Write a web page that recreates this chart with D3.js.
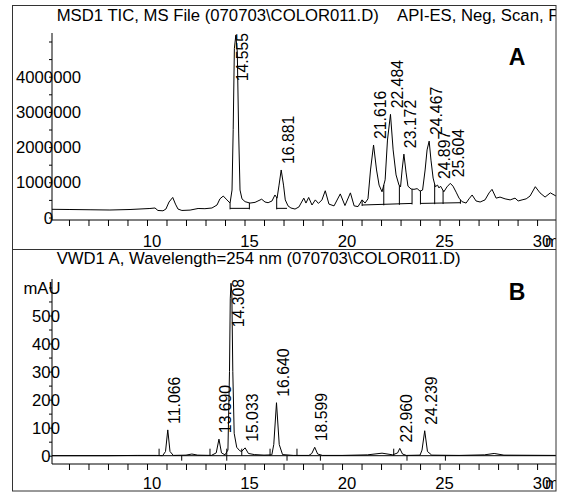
<!DOCTYPE html>
<html><head><meta charset="utf-8">
<script src="https://cdn.jsdelivr.net/npm/d3@7"></script>
<style>html,body{margin:0;padding:0;background:#fff;} svg{display:block;font-family:"Liberation Sans", Arial, sans-serif;}</style>
</head><body><svg id="c" width="564" height="492"></svg>
<script>
// ---------- Panel A : MSD1 TIC ----------
const ticTitle = "MSD1 TIC, MS File (070703\\COLOR011.D)";
const ticTitle2 = "API-ES, Neg, Scan, Frag: 70";
const ticTrace = [[5.13,233000],[6.05,227000],[7.08,220000],[8.10,213000],[9.13,227000],[10.15,256000],[10.41,270000],[10.56,200000],[10.82,190000],[10.97,240000],[11.13,440000],[11.32,570000],[11.46,380000],[11.59,240000],[11.79,200000],[12.21,210000],[12.62,256000],[12.97,250000],[13.33,270000],[13.59,355000],[13.74,530000],[13.91,610000],[14.10,500000],[14.26,410000],[14.36,780000],[14.42,2500000],[14.48,4800000],[14.555,5180000],[14.63,4700000],[14.70,2400000],[14.77,780000],[14.87,530000],[15.03,450000],[15.28,410000],[15.54,430000],[15.69,470000],[15.88,520000],[16.05,440000],[16.21,420000],[16.41,470000],[16.56,640000],[16.67,550000],[16.77,920000],[16.881,1350000],[17.00,920000],[17.09,500000],[17.23,330000],[17.38,270000],[17.59,240000],[17.79,300000],[18.04,550000],[18.15,410000],[18.29,570000],[18.46,355000],[18.63,500000],[18.79,400000],[18.97,500000],[19.14,760000],[19.33,380000],[19.59,330000],[19.91,670000],[20.15,340000],[20.43,700000],[20.62,330000],[20.82,310000],[21.03,500000],[21.18,410000],[21.33,530000],[21.46,1350000],[21.616,2060000],[21.77,1350000],[21.90,920000],[22.05,730000],[22.21,1070000],[22.33,2200000],[22.484,2930000],[22.62,1920000],[22.77,1210000],[22.92,920000],[23.0,870000],[23.08,1350000],[23.172,1800000],[23.28,1290000],[23.38,890000],[23.54,810000],[23.69,800000],[23.85,820000],[24.00,750000],[24.13,780000],[24.26,1350000],[24.36,1920000],[24.467,2170000],[24.56,1630000],[24.67,1120000],[24.78,875000],[24.897,920000],[24.97,840000],[25.05,890000],[25.22,730000],[25.38,870000],[25.55,970000],[25.69,890000],[25.85,720000],[26.0,550000],[26.15,450000],[26.36,410000],[26.51,530000],[26.67,640000],[26.87,470000],[27.08,440000],[27.33,500000],[27.54,700000],[27.69,800000],[27.90,550000],[28.10,580000],[28.36,530000],[28.62,500000],[28.87,550000],[29.03,470000],[29.23,500000],[29.44,530000],[29.64,610000],[29.91,875000],[30.15,700000],[30.41,580000],[30.68,700000],[30.97,610000]];
const ticPeakRT = [14.555,16.881,21.616,22.484,23.172,24.467,24.897,25.604];
const ticPeakText = ["14.555","16.881","21.616","22.484","23.172","24.467","24.897","25.604"];
const ticYTicks = [0,1000000,2000000,3000000,4000000];
const ticYLabels = ["0","1000000","2000000","3000000","4000000"];
const ticXTicks = [10,15,20,25,30];
const ticXLabels = ["10","15","20","25","30"];
// integration baselines: [t1, v1, t2, v2]
const ticBaselines = [[14.26,260000,15.25,260000],[16.65,260000,17.18,260000],[21.03,355000,23.59,400000],[24.02,400000,26.07,420000]];
const ticDrops = [14.26,15.25,16.65,21.03,22.14,22.94,23.59,24.02,24.75,25.18,26.07];

// ---------- Panel B : VWD1 A ----------
const vwdTitle = "VWD1 A, Wavelength=254 nm (070703\\COLOR011.D)";
const vwdTrace = [[5.13,0],[8.0,0],[9.5,1],[10.5,1],[10.8,0],[10.95,15],[11.066,92],[11.18,15],[11.35,1],[12.0,2],[12.3,6],[12.6,2],[13.3,1],[13.55,10],[13.69,59],[13.82,10],[14.0,3],[14.15,20],[14.23,300],[14.27,560],[14.308,615],[14.35,580],[14.40,300],[14.47,80],[14.6,30],[14.75,18],[14.85,15],[15.03,28],[15.2,8],[15.5,4],[16.0,2],[16.4,3],[16.5,40],[16.64,189],[16.78,40],[16.95,4],[17.5,1],[18.3,1],[18.45,8],[18.6,30],[18.75,6],[19.0,1],[20.0,1],[21.3,3],[22.05,9],[22.6,3],[22.85,10],[22.96,26],[23.1,6],[23.3,1],[24.0,2],[24.1,20],[24.239,89],[24.38,15],[24.6,2],[26.0,1],[27.3,3],[27.8,8],[28.3,2],[30.97,1]];
const vwdPeakRT = [11.066,13.690,14.308,15.033,16.640,18.599,22.960,24.239];
const vwdPeakText = ["11.066","13.690","14.308","15.033","16.640","18.599","22.960","24.239"];
const vwdYTicks = [0,100,200,300,400,500];
const vwdYLabels = ["0","100","200","300","400","500"];
const vwdUnit = "mAU";
const vwdStartMarks = [10.62,13.23,14.09,14.86,16.31,17.69,22.65];
const vwdEndMarks = [11.78,14.09,17.18,18.89,23.33,25.3];
const timeUnit = "min";
const panelLetters = ["A","B"];

// ---------- drawing ----------
const svg = d3.select("#c");
const defs = svg.append("defs");
defs.append("clipPath").attr("id","frame").append("rect").attr("x",12).attr("y",5).attr("width",544).attr("height",486);
defs.append("clipPath").attr("id","plotA").append("rect").attr("x",52).attr("y",25).attr("width",504).attr("height",200);
defs.append("clipPath").attr("id","plotB").append("rect").attr("x",52).attr("y",270).attr("width",504).attr("height",196);

const root = svg.append("g").attr("clip-path","url(#frame)");
const FS = 16.7;

const x = d3.scaleLinear().domain([5.13,30.97]).range([52,556]);
const yA = d3.scaleLinear().domain([0,4000000]).range([217.5,76.7]);
const yB = d3.scaleLinear().domain([0,500]).range([455.7,315.5]);

function interp(trace, t){
  const i = d3.bisector(d=>d[0]).left(trace, t);
  if (i<=0) return trace[0][1];
  if (i>=trace.length) return trace[trace.length-1][1];
  const a = trace[i-1], b = trace[i];
  return a[1] + (b[1]-a[1])*(t-a[0])/(b[0]-a[0]);
}
function apex(trace, t){
  const pts = trace.filter(d=>Math.abs(d[0]-t)<=0.12);
  return d3.max(pts, d=>d[1]);
}

function panel(cfg){
  const g = root.append("g");
  g.append("text").attr("x",56.7).attr("y",cfg.titleY).attr("font-size",FS).text(cfg.title);
  if (cfg.title2) g.append("text").attr("x",397).attr("y",cfg.titleY).attr("font-size",FS).text(cfg.title2);
  g.append("text").attr("x",517).attr("y",cfg.letterY).attr("text-anchor","middle")
    .attr("font-size",23).attr("font-weight","bold").text(cfg.letter);
  const xa = g.append("g").attr("transform",`translate(0,${cfg.axisY})`)
    .call(d3.axisBottom(x).tickValues(d3.range(6,31)).tickSize(6).tickFormat(""));
  xa.select(".domain").remove();
  xa.selectAll("line").attr("stroke","#000");
  g.append("line").attr("x1",52).attr("x2",556).attr("y1",cfg.axisY).attr("y2",cfg.axisY).attr("stroke","#000");
  g.selectAll(null).data(cfg.xTicks).join("text")
    .attr("x",(d)=>x(d)+5).attr("y",cfg.xLabelY).attr("text-anchor","middle")
    .attr("dy","0.36em").attr("font-size",FS).text((d,i)=>cfg.xLabels[i]);
  g.append("text").attr("x",545).attr("y",cfg.xLabelY).attr("dy","0.36em").attr("font-size",FS).text(timeUnit);
  g.append("line").attr("x1",52).attr("x2",52).attr("y1",cfg.yTop).attr("y2",cfg.axisY).attr("stroke","#000");
  const ya = g.append("g").attr("transform","translate(52,0)")
    .call(d3.axisLeft(cfg.y).tickValues(cfg.minor).tickSize(3).tickFormat(""));
  ya.select(".domain").remove();
  ya.selectAll("line").attr("stroke","#000");
  g.selectAll(null).data(cfg.yTicks).join("text")
    .attr("x",cfg.yLabelX).attr("y",d=>cfg.y(d)).attr("dy","0.36em").attr("text-anchor","middle")
    .attr("font-size",FS).text((d,i)=>cfg.yLabels[i]);
  if (cfg.unit) g.append("text").attr("x",42).attr("y",cfg.unitY).attr("dy","0.36em").attr("text-anchor","middle").attr("font-size",FS).text(cfg.unit);
  const p = g.append("g").attr("clip-path",`url(#${cfg.clip})`);
  if (cfg.zeroLine) p.append("line").attr("x1",52).attr("x2",556).attr("y1",cfg.y(0)).attr("y2",cfg.y(0)).attr("stroke","#000");
  const line = d3.line().x(d=>x(d[0])).y(d=>cfg.y(d[1]));
  p.append("path").datum(cfg.trace).attr("d",line).attr("fill","none").attr("stroke","#000").attr("stroke-width",1).attr("stroke-linejoin","round");
  if (cfg.baselines){
    p.selectAll(null).data(cfg.baselines).join("line")
      .attr("x1",d=>x(d[0])).attr("y1",d=>cfg.y(d[1])).attr("x2",d=>x(d[2])).attr("y2",d=>cfg.y(d[3]))
      .attr("stroke","#000");
    p.selectAll(null).data(cfg.drops).join("line")
      .attr("x1",d=>x(d)).attr("x2",d=>x(d))
      .attr("y1",d=>{const s=cfg.baselines.find(b=>d>=b[0]-1e-6&&d<=b[2]+1e-6); const v=s[1]+(s[3]-s[1])*(d-s[0])/(s[2]-s[0]); return cfg.y(v)+1;})
      .attr("y2",d=>cfg.y(interp(cfg.trace,d)))
      .attr("stroke","#000");
  }
  if (cfg.startMarks){
    p.selectAll(null).data(cfg.startMarks).join("line")
      .attr("x1",d=>x(d)).attr("x2",d=>x(d)).attr("y1",cfg.y(0)).attr("y2",cfg.y(0)-7).attr("stroke","#000");
    p.selectAll(null).data(cfg.endMarks).join("line")
      .attr("x1",d=>x(d)).attr("x2",d=>x(d)).attr("y1",cfg.y(0)).attr("y2",cfg.y(0)+5).attr("stroke","#000");
  }
  cfg.peaks.forEach((rt,i)=>{
    const t = g.append("text").attr("font-size",15.8).attr("text-anchor","start").text(cfg.peakText[i]);
    const len = t.node().getComputedTextLength();
    let bottom = cfg.y(apex(cfg.trace, rt)) - 6;
    if (bottom - len < cfg.yTop) bottom = cfg.yTop + len;
    t.attr("transform",`translate(${x(rt)+12.5},${bottom}) rotate(-90)`);
  });
}

panel({title:ticTitle, title2:ticTitle2, titleY:21, letter:panelLetters[0], letterY:65,
  axisY:220, xLabelY:240.7, yTop:33, y:yA, minor:d3.range(0,5200001,500000),
  yTicks:ticYTicks, yLabels:ticYLabels, yLabelX:48.5, xTicks:ticXTicks, xLabels:ticXLabels,
  trace:ticTrace, clip:"plotA", baselines:ticBaselines, drops:ticDrops,
  peaks:ticPeakRT, peakText:ticPeakText});

panel({title:vwdTitle, titleY:264, letter:panelLetters[1], letterY:300,
  axisY:464, xLabelY:483, yTop:279, y:yB, minor:d3.range(0,601,50),
  yTicks:vwdYTicks, yLabels:vwdYLabels, yLabelX:46, unit:vwdUnit, unitY:287.7,
  xTicks:ticXTicks, xLabels:ticXLabels, zeroLine:true,
  trace:vwdTrace, clip:"plotB", startMarks:vwdStartMarks, endMarks:vwdEndMarks,
  peaks:vwdPeakRT, peakText:vwdPeakText});

svg.append("rect").attr("x",12.5).attr("y",5.5).attr("width",543.5).attr("height",485.5).attr("fill","none").attr("stroke","#333");
svg.append("line").attr("x1",12).attr("x2",556).attr("y1",249.5).attr("y2",249.5).attr("stroke","#333");
</script></body></html>
